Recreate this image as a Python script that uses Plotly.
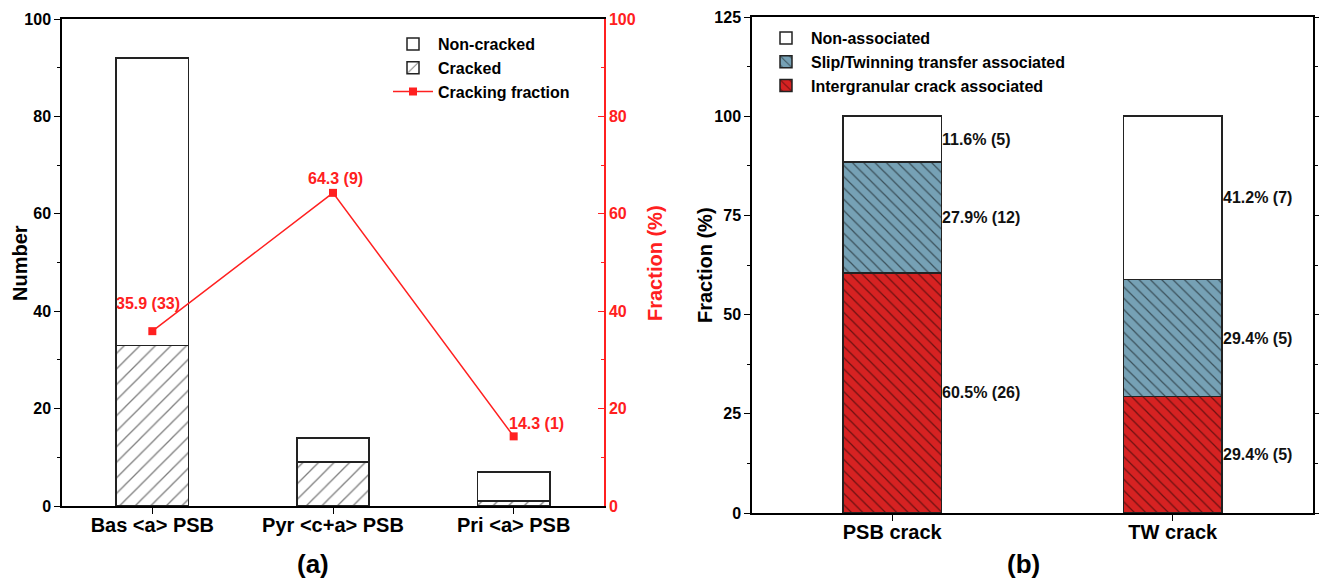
import plotly.graph_objects as go

# ---- data: panel (a)
slip_systems = ["Bas &lt;a&gt; PSB", "Pyr &lt;c+a&gt; PSB", "Pri &lt;a&gt; PSB"]
cracked = [33, 9, 1]
non_cracked = [59, 5, 6]
cracking_fraction = [35.9, 64.3, 14.3]
fraction_labels = ["35.9 (33)", "64.3 (9)", "14.3 (1)"]

# ---- data: panel (b)
crack_types = ["PSB crack", "TW crack"]
intergranular = [60.5, 29.4]
slip_twin = [27.9, 29.4]
non_associated = [11.6, 41.2]
intergranular_n = [26, 5]
slip_twin_n = [12, 5]
non_associated_n = [5, 7]

FONT = "Liberation Sans, Arial, sans-serif"
RED = "#FF2020"
EDGE = "#222222"

xa = [1, 2, 3]
xb = [1, 2]

fig = go.Figure()

# panel (a)
fig.add_trace(go.Bar(
    x=xa, y=cracked, name="<b>Cracked</b>", width=0.4,
    marker=dict(color="white", line=dict(color=EDGE, width=1.5),
                pattern=dict(shape="/", fgcolor="#000000", bgcolor="white", size=11, solidity=0.12)),
    xaxis="x", yaxis="y", legend="legend", legendrank=2))
fig.add_trace(go.Bar(
    x=xa, y=non_cracked, name="<b>Non-cracked</b>", width=0.4,
    marker=dict(color="white", line=dict(color=EDGE, width=1.5)),
    xaxis="x", yaxis="y", legend="legend", legendrank=1))
fig.add_trace(go.Scatter(
    x=xa, y=cracking_fraction, name="<b>Cracking fraction</b>", mode="lines+markers",
    line=dict(color=RED, width=1.5), marker=dict(symbol="square", size=8, color=RED),
    xaxis="x", yaxis="y2", legend="legend", legendrank=3))

# panel (b)
fig.add_trace(go.Bar(
    x=xb, y=intergranular, name="<b>Intergranular crack associated</b>", width=0.35,
    marker=dict(color="#D62222", line=dict(color=EDGE, width=1.5),
                pattern=dict(shape="\\", fgcolor="#000000", bgcolor="#D62222", size=8, solidity=0.15)),
    xaxis="x2", yaxis="y3", legend="legend2", legendrank=3))
fig.add_trace(go.Bar(
    x=xb, y=slip_twin, name="<b>Slip/Twinning transfer associated</b>", width=0.35,
    marker=dict(color="#76A1B5", line=dict(color=EDGE, width=1.5),
                pattern=dict(shape="\\", fgcolor="#000000", bgcolor="#76A1B5", size=8, solidity=0.15)),
    xaxis="x2", yaxis="y3", legend="legend2", legendrank=2))
fig.add_trace(go.Bar(
    x=xb, y=non_associated, name="<b>Non-associated</b>", width=0.35,
    marker=dict(color="white", line=dict(color=EDGE, width=1.5)),
    xaxis="x2", yaxis="y3", legend="legend2", legendrank=1))

annotations = []
# fraction labels on panel (a)
shifts = [(-4, 28), (2, 14), (23, 13)]
for xi, yi, lab, (dx, dy) in zip(xa, cracking_fraction, fraction_labels, shifts):
    annotations.append(dict(x=xi, y=yi, xref="x", yref="y2", text="<b>%s</b>" % lab,
                            showarrow=False, xshift=dx, yshift=dy,
                            font=dict(family=FONT, size=16, color=RED)))

# segment labels on panel (b)
for vals, counts, bases in [(intergranular, intergranular_n, [0, 0]),
                            (slip_twin, slip_twin_n, intergranular),
                            (non_associated, non_associated_n,
                             [a + b for a, b in zip(intergranular, slip_twin)])]:
    for xi, v, n, b in zip(xb, vals, counts, bases):
        annotations.append(dict(x=xi + 0.175, y=b + v / 2, xref="x2", yref="y3",
                                text="<b>%.1f%% (%d)</b>" % (v, n), showarrow=False,
                                xanchor="left", xshift=-1,
                                font=dict(family=FONT, size=16, color="#111111")))

annotations.append(dict(x=0.237, y=0.0, xref="paper", yref="paper", xanchor="center", yanchor="bottom",
                        text="<b>(a)</b>", showarrow=False, font=dict(family=FONT, size=26, color="black")))
annotations.append(dict(x=0.776, y=0.0, xref="paper", yref="paper", xanchor="center", yanchor="bottom",
                        text="<b>(b)</b>", showarrow=False, font=dict(family=FONT, size=26, color="black")))

# axis titles
annotations.append(dict(x=20 / 1319, y=1 - 263 / 581, xref="paper", yref="paper", textangle=-90,
                        xanchor="center", yanchor="middle",
                        text="<b>Number</b>", showarrow=False, font=dict(family=FONT, size=20, color="black")))
annotations.append(dict(x=655 / 1319, y=1 - 263 / 581, xref="paper", yref="paper", textangle=-90,
                        xanchor="center", yanchor="middle",
                        text="<b>Fraction (%)</b>", showarrow=False, font=dict(family=FONT, size=20, color=RED)))
annotations.append(dict(x=705 / 1319, y=1 - 265 / 581, xref="paper", yref="paper", textangle=-90,
                        xanchor="center", yanchor="middle",
                        text="<b>Fraction (%)</b>", showarrow=False, font=dict(family=FONT, size=20, color="black")))

tickfont = dict(family=FONT, size=16, color="black")
xtickfont = dict(family=FONT, size=20, color="black")

fig.update_layout(
    width=1319, height=581,
    margin=dict(l=0, r=0, t=0, b=0, autoexpand=False),
    paper_bgcolor="white", plot_bgcolor="white",
    barmode="stack",
    font=dict(family=FONT),
    annotations=annotations,
    xaxis=dict(domain=[62 / 1319, 604 / 1319], range=[0.5, 3.5], tickvals=xa,
               ticktext=["<b>%s</b>" % s for s in slip_systems], tickfont=xtickfont,
               showline=True, linecolor="black", linewidth=1.5, mirror=True,
               ticks="outside", ticklen=6, tickcolor="black", showgrid=False, zeroline=False,
               ticklabelstandoff=-6, anchor="y", automargin=False),
    yaxis=dict(domain=[1 - 506 / 581, 1 - 19 / 581], range=[0, 100], dtick=20,
               tickfont=tickfont, tickprefix="<b>", ticksuffix="</b>",
               showline=True, linecolor="black", linewidth=1.5,
               ticks="outside", ticklen=6, tickcolor="black",
               minor=dict(dtick=10, ticks="outside", ticklen=3, tickcolor="black"),
               showgrid=False, zeroline=False, anchor="x", automargin=False),
    yaxis2=dict(overlaying="y", side="right", anchor="x", range=[0, 100], dtick=20,
                tickfont=dict(family=FONT, size=16, color=RED), tickprefix="<b>", ticksuffix="</b>",
                showline=True, linecolor=RED, linewidth=1.5,
                ticks="inside", ticklen=6, tickcolor=RED,
                minor=dict(dtick=10, ticks="inside", ticklen=3, tickcolor=RED),
                showgrid=False, zeroline=False, automargin=False),
    xaxis2=dict(domain=[752 / 1319, 1313 / 1319], range=[0.5, 2.5], tickvals=xb,
                ticktext=["<b>%s</b>" % s for s in crack_types], tickfont=xtickfont,
                showline=True, linecolor="black", linewidth=1.5, mirror=True,
                ticks="outside", ticklen=6, tickcolor="black", showgrid=False, zeroline=False,
                ticklabelstandoff=-6, anchor="y3", automargin=False),
    yaxis3=dict(domain=[1 - 513 / 581, 1 - 17 / 581], range=[0, 125], dtick=25,
                tickfont=tickfont, tickprefix="<b>", ticksuffix="</b>",
                showline=True, linecolor="black", linewidth=1.5, mirror="ticks",
                ticks="outside", ticklen=6, tickcolor="black",
                minor=dict(dtick=12.5, ticks="outside", ticklen=3, tickcolor="black"),
                showgrid=False, zeroline=False, anchor="x2", automargin=False),
    legend=dict(x=388 / 1319, y=1 - 27 / 581, xanchor="left", yanchor="top",
                traceorder="normal", bgcolor="rgba(0,0,0,0)", tracegroupgap=0,
                font=dict(family=FONT, size=16, color="black"), itemwidth=40),
    legend2=dict(x=761 / 1319, y=1 - 21 / 581, xanchor="left", yanchor="top",
                 traceorder="normal", bgcolor="rgba(0,0,0,0)", tracegroupgap=0,
                 font=dict(family=FONT, size=16, color="black"), itemwidth=40),
)

fig.write_html("out.html")
